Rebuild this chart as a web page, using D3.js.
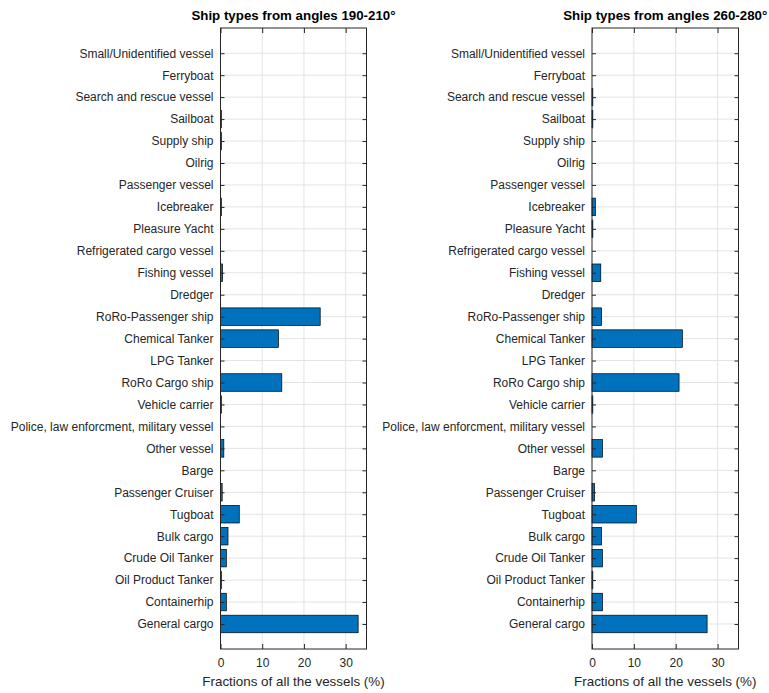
<!DOCTYPE html>
<html>
<head>
    <meta charset="utf-8">
    <title>Ship types</title>
    <script src="https://d3js.org/d3.v7.min.js"></script>
    <style>
        body { margin: 0; background: #fff; }
        text { font-family: "Liberation Sans", Arial, sans-serif; fill: #262626; }
        .title { font-weight: bold; font-size: 13.3px; fill: #000; }
        .tick text { font-size: 12px; }
        .xlabel { font-size: 13.4px; }
    </style>
</head>
<body>
<svg width="769" height="693"></svg>
<script>
    // categories, bottom to top (as in the barh call)
    var categories = ["General cargo", "Containerhip", "Oil Product Tanker", "Crude Oil Tanker", "Bulk cargo",
        "Tugboat", "Passenger Cruiser", "Barge", "Other vessel", "Police, law enforcment, military vessel",
        "Vehicle carrier", "RoRo Cargo ship", "LPG Tanker", "Chemical Tanker", "RoRo-Passenger ship",
        "Dredger", "Fishing vessel", "Refrigerated cargo vessel", "Pleasure Yacht", "Icebreaker",
        "Passenger vessel", "Oilrig", "Supply ship", "Sailboat", "Search and rescue vessel",
        "Ferryboat", "Small/Unidentified vessel"];

    var values190 = [33.0, 1.4, 0.2, 1.4, 1.8, 4.5, 0.4, 0, 0.8, 0, 0.2, 14.7, 0, 13.9, 23.9,
        0, 0.5, 0, 0, 0.2, 0, 0, 0.2, 0.2, 0, 0, 0];
    var values260 = [27.5, 2.5, 0.2, 2.5, 2.3, 10.6, 0.6, 0, 2.5, 0, 0.2, 20.8, 0, 21.6, 2.3,
        0, 2.1, 0, 0.2, 0.8, 0, 0, 0, 0.2, 0.2, 0, 0];

    var xTicks = [0, 10, 20, 30];
    var titles = ["Ship types from angles 190-210\u00b0", "Ship types from angles 260-280\u00b0"];
    var xLabel = "Fractions of all the vessels (%)";

    var svg = d3.select("svg");
    var plotTop = 28, plotBottom = 649;

    var y = d3.scaleLinear().domain([-0.14, 28.15]).range([plotBottom, plotTop]);
    var idx = d3.range(1, categories.length + 1);

    function panel(left, right, values, title) {
        var x = d3.scaleLinear().domain([0, 35]).range([left, right]);
        var g = svg.append("g");

        // grid
        g.selectAll(".vg").data(xTicks.slice(1)).enter().append("line")
            .attr("x1", d => x(d)).attr("x2", d => x(d))
            .attr("y1", plotTop).attr("y2", plotBottom)
            .attr("stroke", "#e3e3e3");
        g.selectAll(".hg").data(idx).enter().append("line")
            .attr("x1", left).attr("x2", right)
            .attr("y1", d => y(d)).attr("y2", d => y(d))
            .attr("stroke", "#e3e3e3");

        // bars
        g.selectAll("rect.bar").data(values).enter().append("rect")
            .attr("class", "bar")
            .attr("x", x(0))
            .attr("y", (d, i) => y(i + 1 + 0.4))
            .attr("width", d => x(d) - x(0))
            .attr("height", y(0) - y(0.8))
            .attr("fill", "#0072BD")
            .attr("stroke", "#000")
            .attr("stroke-width", 0.7);

        // axes
        var yAxis = d3.axisLeft(y).tickValues(idx).tickSize(-4).tickPadding(7)
            .tickFormat(d => categories[d - 1]);
        g.append("g").attr("transform", "translate(" + left + ",0)").call(yAxis);
        g.append("g").attr("transform", "translate(" + right + ",0)")
            .call(d3.axisRight(y).tickValues(idx).tickSize(-4).tickFormat(""));
        g.append("g").attr("transform", "translate(0," + plotBottom + ")")
            .call(d3.axisBottom(x).tickValues(xTicks).tickSize(-5).tickPadding(9));
        g.append("g").attr("transform", "translate(0," + plotTop + ")")
            .call(d3.axisTop(x).tickValues(xTicks).tickSize(-5).tickFormat(""));

        g.selectAll(".domain").remove();
        g.selectAll(".tick line").attr("stroke", "#262626");
        g.selectAll(".tick text").attr("fill", "#333");

        g.append("rect")
            .attr("x", left).attr("y", plotTop)
            .attr("width", right - left).attr("height", plotBottom - plotTop)
            .attr("fill", "none").attr("stroke", "#262626").attr("stroke-width", 1);

        g.append("text").attr("class", "title")
            .attr("x", (left + right) / 2).attr("y", 20)
            .attr("text-anchor", "middle").text(title);
        g.append("text").attr("class", "xlabel")
            .attr("x", (left + right) / 2).attr("y", 685.5)
            .attr("text-anchor", "middle").attr("fill", "#333").text(xLabel);
    }

    panel(220.5, 366.5, values190, titles[0]);
    panel(592, 738.5, values260, titles[1]);
</script>
</body>
</html>
